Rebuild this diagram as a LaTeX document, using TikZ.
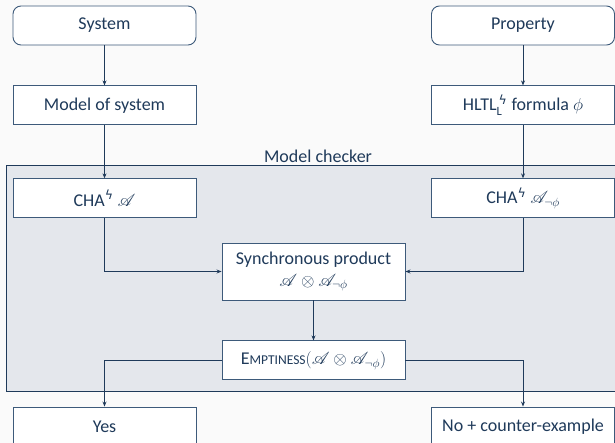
\documentclass[tikz,border=0pt]{standalone}
\usepackage{amsmath,amssymb,mathrsfs}
\usepackage{fontspec}
\setmainfont{Carlito}
\newfontfamily\boltfont{DejaVu Sans}
\newcommand{\zap}{\text{\boltfont ϟ}}
\usetikzlibrary{positioning,arrows.meta}
\definecolor{ink}{HTML}{1F3A5A}
\definecolor{edge}{HTML}{3D5A7A}
\definecolor{panel}{HTML}{E4E7EC}
\definecolor{paper}{HTML}{FAFAFA}

\begin{document}
\begin{tikzpicture}[x=1pt,y=-1pt,>={Stealth[length=5pt,width=4pt]},
  every node/.style={font=\fontsize{18}{20}\selectfont,text=ink},
  box/.style={draw=edge,fill=white,line width=0.9pt,minimum width=183pt,minimum height=39pt,align=center,inner sep=2pt},
  roundbox/.style={box,rounded corners=8pt},
  checkerbox/.style={draw=ink,fill=panel,line width=0.9pt,minimum width=624pt,minimum height=226pt,inner sep=0pt},
  link/.style={->,draw=ink,line width=0.8pt}]
\useasboundingbox[fill=paper] (0,0) rectangle (615,443);

% model checker panel
\node[checkerbox,label={[text=ink,inner sep=2pt]above:Model checker}] (checker) at (318,278) {};

\node[roundbox] (sys) at (104.5,25.5) {System};
\node[roundbox] (prop) at (523,25.5) {Property};

\node[box,below=40pt of sys] (model) {Model of system};
\node[box,below=40pt of prop] (formula) {HLTL$^{\,\zap}_{\text{L}}$ formula $\phi$};

\node[box,below=53pt of model] (cha) {CHA$^{\zap}$ $\mathscr{A}$};
\node[box,below=53pt of formula] (chaneg) {CHA$^{\zap}$ $\mathscr{A}_{\neg\phi}$};

\node[box,minimum height=57pt,inner sep=1pt] (sync) at (313.5,271.5) {Synchronous product\\[2pt]$\mathscr{A}\otimes\mathscr{A}_{\neg\phi}$};
\node[box,below=40pt of sync] (empty) {E{\fontsize{13.5}{15}\selectfont MPTINESS}$(\mathscr{A}\otimes\mathscr{A}_{\neg\phi})$};

\node[box] (yes) at (104.5,426.5) {Yes};
\node[box] (no) at (523,426.5) {No + counter-example};

\draw[link] (sys) -- (model);
\draw[link] (prop) -- (formula);
\draw[link] (model) -- (cha);
\draw[link] (formula) -- (chaneg);
\draw[link] (cha) |- (sync);
\draw[link] (chaneg) |- (sync);
\draw[link] (sync) -- (empty);
\draw[link] (empty) -| (yes);
\draw[link] (empty) -| (no);
\end{tikzpicture}
\end{document}
